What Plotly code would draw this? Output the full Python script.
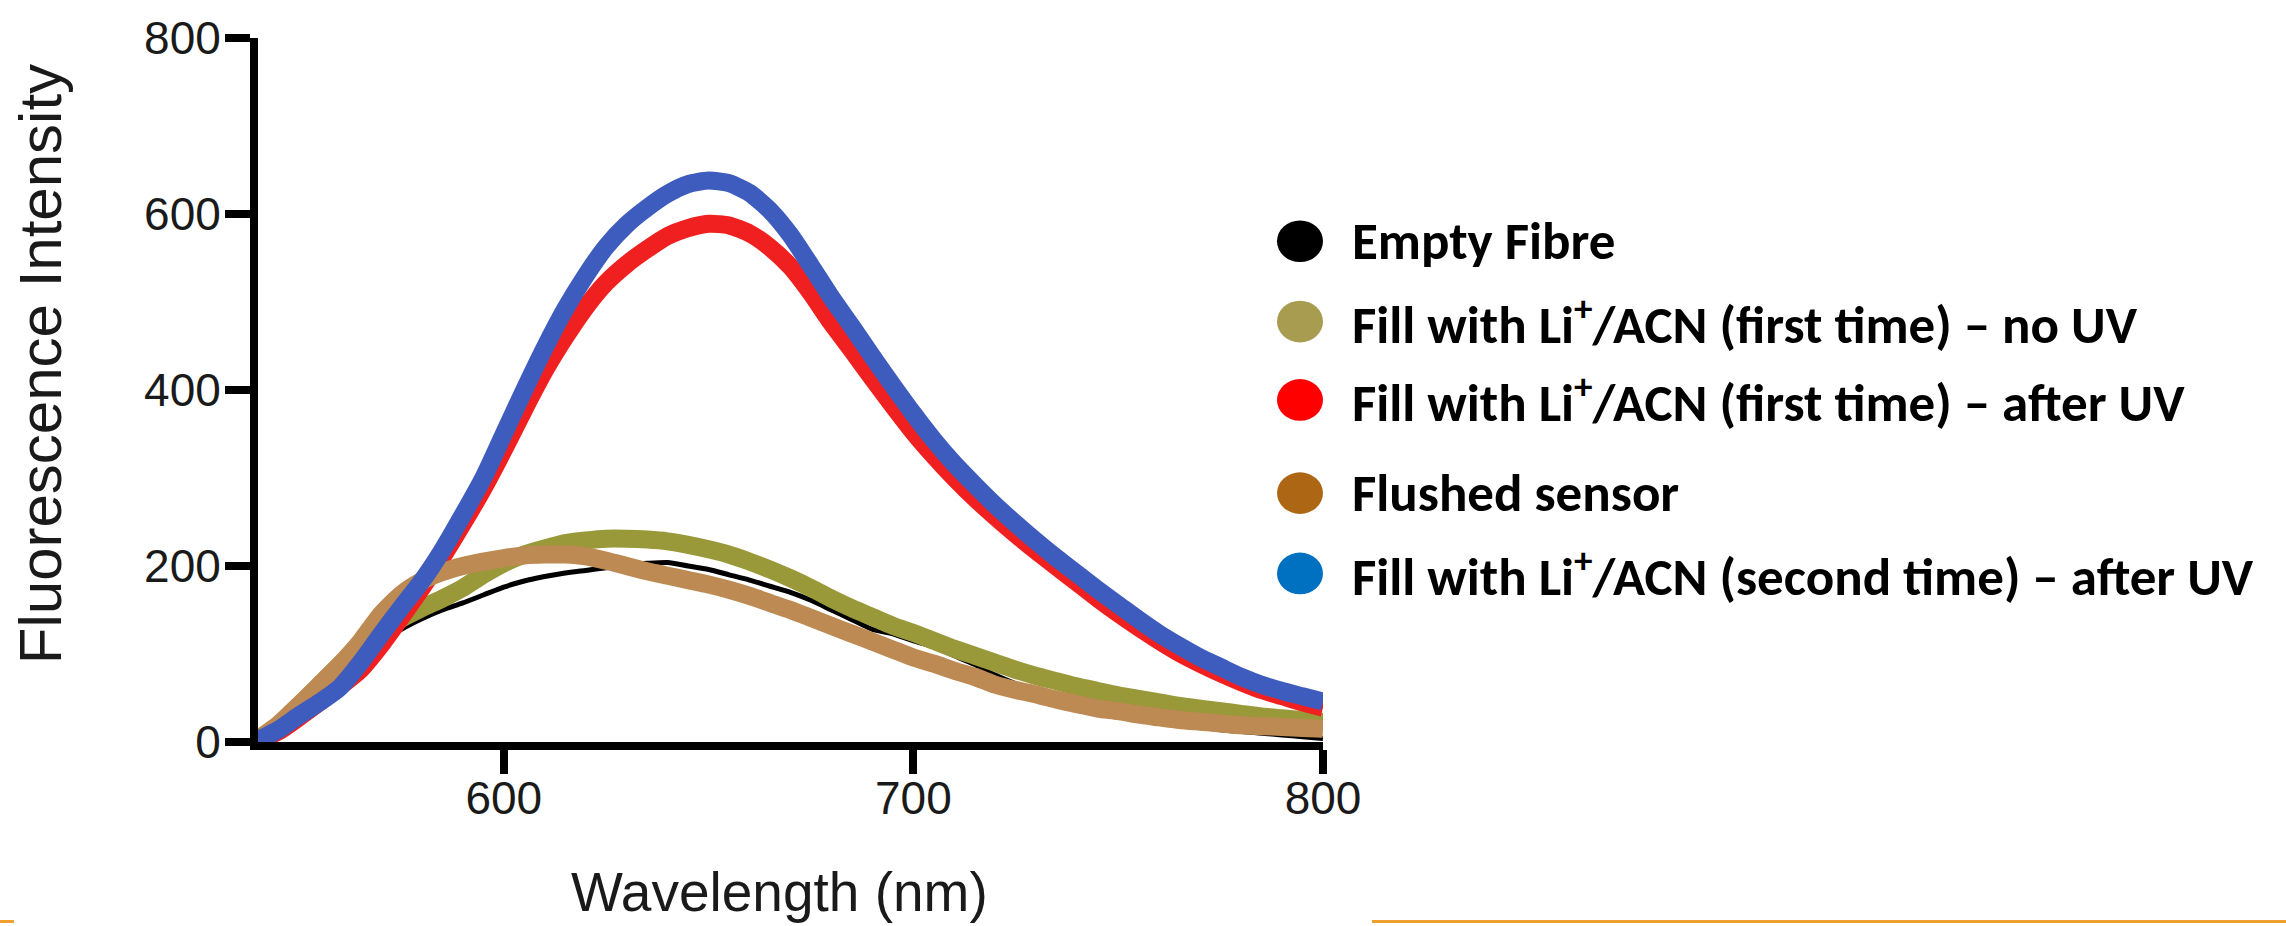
import plotly.graph_objects as go

# ---------------- data ----------------
wavelength = list(range(540, 801, 5))

empty_fibre = [2, 14, 30, 50, 72, 93, 113, 128, 140, 150, 158, 167, 176, 183, 188, 192,
               195, 198, 201, 203, 204, 200, 196, 190, 184, 177, 170, 161, 150, 139,
               128, 123, 115, 108, 98, 88, 76, 66, 57, 50, 43, 37, 32, 28, 24, 20, 17,
               14, 12, 10, 8, 6, 4]

first_no_uv = [2, 15, 32, 52, 75, 98, 120, 140, 152, 163, 175, 190, 203, 213, 220, 226,
               229, 231, 231, 230, 228, 224, 219, 213, 205, 196, 186, 175, 163, 152,
               142, 132, 124, 115, 106, 98, 90, 82, 75, 69, 63, 58, 53, 49, 45, 41, 38,
               35, 32, 29, 27, 25, 23]

first_after_uv = [2, 12, 28, 45, 63, 82, 110, 142, 175, 210, 248, 288, 332, 378, 422, 460,
                  494, 522, 543, 560, 575, 584, 589, 587, 578, 562, 540, 510, 476, 445,
                  413, 382, 352, 325, 300, 277, 256, 236, 217, 199, 181, 163, 146, 130,
                  115, 101, 89, 78, 68, 59, 52, 45, 39]

flushed = [3, 20, 42, 65, 88, 114, 145, 168, 183, 193, 200, 205, 209, 212, 213, 213,
           211, 206, 200, 194, 189, 184, 179, 173, 166, 158, 150, 141, 132, 123, 114,
           105, 96, 89, 81, 74, 65, 59, 54, 48, 43, 38, 35, 31, 28, 25, 23, 21, 19, 18,
           17, 16, 15]

second_after_uv = [2, 14, 30, 45, 62, 90, 122, 153, 183, 218, 258, 300, 350, 400, 448,
                   492, 530, 563, 588, 607, 623, 634, 638, 635, 624, 604, 576, 541, 505,
                   472, 438, 405, 373, 343, 316, 292, 269, 248, 228, 209, 191, 173, 156,
                   139, 123, 109, 96, 85, 74, 65, 58, 52, 46]

series_names = [
    "Empty Fibre",
    "Fill with Li<sup>+</sup>/ACN (first time) – no UV",
    "Fill with Li<sup>+</sup>/ACN (first time) – after UV",
    "Flushed sensor",
    "Fill with Li<sup>+</sup>/ACN (second time) – after UV",
]
series_values = [empty_fibre, first_no_uv, first_after_uv, flushed, second_after_uv]
curve_colors = ["#000000", "#99993A", "#F02020", "#BC8A52", "#3E5CBE"]
curve_widths = [5, 18, 18, 18, 18]
legend_colors = ["#000000", "#A89C50", "#FF0000", "#AD6614", "#0070C0"]
legend_y_px = [237, 318, 397, 491, 572]

x_ticks = [600, 700, 800]
y_ticks = [0, 200, 400, 600, 800]

# ---------------- geometry ----------------
W, H = 2286, 926
L, R, T, B = 258, 1323, 32, 742
pw, ph = R - L, B - T


def px_x(p):
    return (p - L) / pw


def px_y(p):
    return (B - p) / ph


fig = go.Figure()
for name, vals, col, w in zip(series_names, series_values, curve_colors, curve_widths):
    fig.add_trace(go.Scatter(x=wavelength, y=vals, mode="lines", name=name,
                             line=dict(color=col, width=w, shape="spline", smoothing=0.6),
                             showlegend=False, hoverinfo="skip"))

axis_font = dict(family="Liberation Sans, Arial, sans-serif", size=46, color="#1a1a1a")
title_family = "Liberation Sans, Arial, sans-serif"

fig.update_layout(
    width=W, height=H,
    margin=dict(l=L, r=W - R, t=T, b=H - B, pad=0),
    paper_bgcolor="white", plot_bgcolor="white",
    xaxis=dict(range=[540, 800], tickvals=x_ticks, ticks="outside", ticklen=24,
               tickwidth=8, tickcolor="black", showline=True, linewidth=8,
               linecolor="black", showgrid=False, zeroline=False, tickfont=axis_font,
               ticklabelstandoff=-15),
    yaxis=dict(range=[0, 800], tickvals=y_ticks, ticks="outside", ticklen=25,
               tickwidth=8, tickcolor="black", showline=True, linewidth=8,
               linecolor="black", showgrid=False, zeroline=False, tickfont=axis_font,
               ticklabelstandoff=-5),
)

shapes = []
annotations = []

# axis titles
annotations.append(dict(text="Wavelength (nm)", xref="paper", yref="paper",
                        x=px_x(779), y=px_y(893), xanchor="center", yanchor="middle",
                        showarrow=False,
                        font=dict(family=title_family, size=55, color="#1a1a1a")))
annotations.append(dict(text="Fluorescence Intensity", xref="paper", yref="paper",
                        x=px_x(40), y=px_y(361), xanchor="center", yanchor="middle",
                        textangle=-90, showarrow=False,
                        font=dict(family=title_family, size=60, color="#1a1a1a")))

# custom legend
for name, col, yp in zip(series_names, legend_colors, legend_y_px):
    shapes.append(dict(type="circle", xref="paper", yref="paper",
                       x0=px_x(1277), x1=px_x(1323), y0=px_y(yp + 21), y1=px_y(yp - 21),
                       fillcolor=col, line=dict(width=0)))
    annotations.append(dict(text=name, xref="paper", yref="paper",
                            x=px_x(1350), y=px_y(yp), xanchor="left", yanchor="middle",
                            showarrow=False,
                            font=dict(family="Carlito, 'Liberation Sans Narrow', sans-serif",
                                      size=53, color="black", weight="bold")))

# orange separator lines at the bottom of the page
shapes.append(dict(type="line", xref="paper", yref="paper", x0=px_x(1372), x1=px_x(2286),
                   y0=px_y(923), y1=px_y(923), line=dict(color="#F0A030", width=3)))
shapes.append(dict(type="line", xref="paper", yref="paper", x0=px_x(0), x1=px_x(14),
                   y0=px_y(923), y1=px_y(923), line=dict(color="#F0A030", width=3)))

fig.update_layout(shapes=shapes, annotations=annotations)
fig.write_html("out.html", config={"displayModeBar": False})
